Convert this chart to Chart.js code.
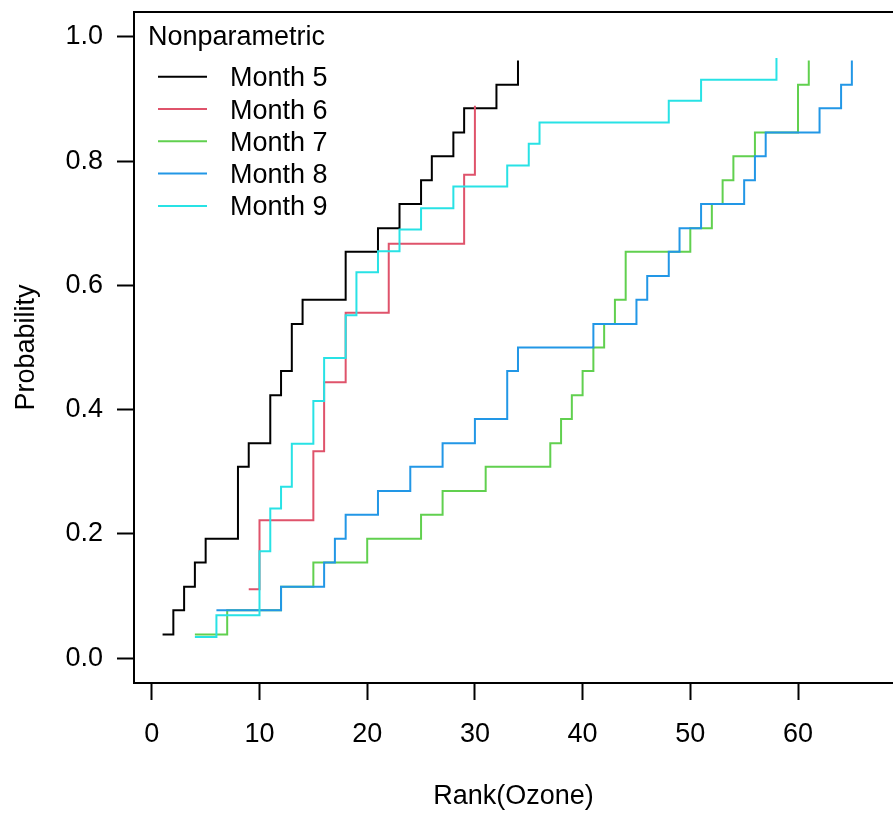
<!DOCTYPE html>
<html>
<head>
<meta charset="utf-8">
<script src="https://cdn.jsdelivr.net/npm/chart.js@4/dist/chart.umd.min.js"></script>
<style>
  html, body { margin: 0; padding: 0; background: #fff; }
  #wrap { width: 893px; height: 816px; }
</style>
</head>
<body>
<div id="wrap"><canvas id="chart" width="893" height="816"></canvas></div>
<script>
// ranks and step probabilities, one pair of arrays per month
const month5Rank = [1, 2, 3, 4, 5, 8, 9, 11, 12, 13, 14, 18, 21, 23, 25, 26, 28, 29, 32, 34];
const month5Prob = [0.038, 0.077, 0.115, 0.154, 0.192, 0.308, 0.346, 0.423, 0.462, 0.538,
                    0.577, 0.654, 0.692, 0.731, 0.769, 0.808, 0.846, 0.885, 0.923, 0.962];

const month6Rank = [9, 10, 15, 16, 18, 22, 29, 30];
const month6Prob = [0.111, 0.222, 0.333, 0.444, 0.556, 0.667, 0.778, 0.889];

const month7Rank = [4, 7, 12, 15, 20, 25, 27, 31, 37, 38, 39, 40, 41, 42, 43, 44, 50, 52, 53, 54, 56, 60, 61];
const month7Prob = [0.038, 0.077, 0.115, 0.154, 0.192, 0.231, 0.269, 0.308, 0.346, 0.385, 0.423, 0.462,
                    0.500, 0.538, 0.577, 0.654, 0.692, 0.731, 0.769, 0.808, 0.846, 0.923, 0.962];

const month8Rank = [6, 12, 16, 17, 18, 21, 24, 27, 30, 33, 34, 41, 45, 46, 48, 49, 51, 55, 56, 57, 62, 64, 65];
const month8Prob = [0.077, 0.115, 0.154, 0.192, 0.231, 0.269, 0.308, 0.346, 0.385, 0.462, 0.500, 0.538,
                    0.577, 0.615, 0.654, 0.692, 0.731, 0.769, 0.808, 0.846, 0.885, 0.923, 0.962];

const month9Rank = [4, 6, 10, 11, 12, 13, 15, 16, 18, 19, 21, 23, 25, 28, 33, 35, 36, 48, 51, 58];
const month9Prob = [0.034, 0.069, 0.172, 0.241, 0.276, 0.345, 0.414, 0.483, 0.552, 0.621,
                    0.655, 0.690, 0.724, 0.759, 0.793, 0.828, 0.862, 0.897, 0.931, 0.966];

const monthLabels = ["Month 5", "Month 6", "Month 7", "Month 8", "Month 9"];
const monthColors = ["#000000", "#DF536B", "#61D04F", "#2297E6", "#28E2E5"];
const legendTitle = "Nonparametric";

const xTicks = [0, 10, 20, 30, 40, 50, 60];
const yTicks = [0, 0.2, 0.4, 0.6, 0.8, 1.0];

const series = [
  [month5Rank, month5Prob],
  [month6Rank, month6Prob],
  [month7Rank, month7Prob],
  [month8Rank, month8Prob],
  [month9Rank, month9Prob]
];

const FONT = '"Liberation Sans", Arial, sans-serif';
const FONT_SIZE = 27;
Chart.defaults.font.family = FONT;
Chart.defaults.font.size = FONT_SIZE;
Chart.defaults.color = "#000";

const datasets = series.map(([ranks, probs], i) => ({
  label: monthLabels[i],
  data: ranks.map((r, k) => ({ x: r, y: probs[k] })),
  borderColor: monthColors[i],
  borderWidth: 2,
  pointRadius: 0,
  stepped: true,
  fill: false,
  order: series.length - i   // later months drawn on top, like R
}));

// keep the plot box where R put it, labels may overhang
function noScalePadding(scale) {
  scale.paddingTop = 0;
  scale.paddingBottom = 0;
  scale.paddingLeft = 0;
  scale.paddingRight = 0;
}

// top frame line (right side of the frame falls outside the picture)
const framePlugin = {
  id: "frame",
  afterDraw(chart) {
    const { ctx, chartArea } = chart;
    ctx.save();
    ctx.strokeStyle = "#000";
    ctx.lineWidth = 2;
    ctx.beginPath();
    ctx.moveTo(chartArea.left - 1, chartArea.top);
    ctx.lineTo(chartArea.right, chartArea.top);
    ctx.stroke();
    ctx.restore();
  }
};

const legendPlugin = {
  id: "monthLegend",
  afterDatasetsDraw(chart) {
    const ctx = chart.ctx;
    ctx.save();
    ctx.font = `${FONT_SIZE}px ${FONT}`;
    ctx.fillStyle = "#000";
    ctx.textBaseline = "alphabetic";
    ctx.textAlign = "left";
    ctx.fillText(legendTitle, 148, 45);
    monthLabels.forEach((label, i) => {
      const y = 76.7 + i * 32.3;
      ctx.strokeStyle = monthColors[i];
      ctx.lineWidth = 2;
      ctx.beginPath();
      ctx.moveTo(158, y);
      ctx.lineTo(207, y);
      ctx.stroke();
      ctx.fillText(label, 230, y + 9.5);
    });
    ctx.restore();
  }
};

new Chart(document.getElementById("chart"), {
  type: "line",
  data: { datasets },
  plugins: [framePlugin, legendPlugin],
  options: {
    responsive: false,
    animation: false,
    devicePixelRatio: 1,
    layout: { padding: { left: 0, right: 0, top: 12, bottom: 0 } },
    plugins: {
      legend: { display: false },
      tooltip: { enabled: false }
    },
    scales: {
      x: {
        type: "linear",
        min: -1.653,
        max: 68.82,
        afterBuildTicks: scale => { scale.ticks = xTicks.map(v => ({ value: v })); },
        afterFit: scale => { scale.height = 133; noScalePadding(scale); },
        ticks: { autoSkip: false, maxRotation: 0, padding: 18, color: "#000" },
        grid: { drawOnChartArea: false, drawTicks: true, tickLength: 17, tickWidth: 2, tickColor: "#000" },
        border: { display: true, color: "#000", width: 2 },
        title: { display: true, text: "Rank(Ozone)", color: "#000", padding: { top: 0, bottom: 3 } }
      },
      y: {
        min: -0.04,
        max: 1.04,
        afterBuildTicks: scale => { scale.ticks = yTicks.map(v => ({ value: v })); },
        afterFit: scale => { scale.width = 134; noScalePadding(scale); },
        ticks: { autoSkip: false, padding: 14, color: "#000", callback: v => v.toFixed(1) },
        grid: { drawOnChartArea: false, drawTicks: true, tickLength: 17, tickWidth: 2, tickColor: "#000" },
        border: { display: true, color: "#000", width: 2 },
        title: { display: true, text: "Probability", color: "#000", padding: { top: 10, bottom: 0 } }
      }
    }
  }
});
</script>
</body>
</html>
